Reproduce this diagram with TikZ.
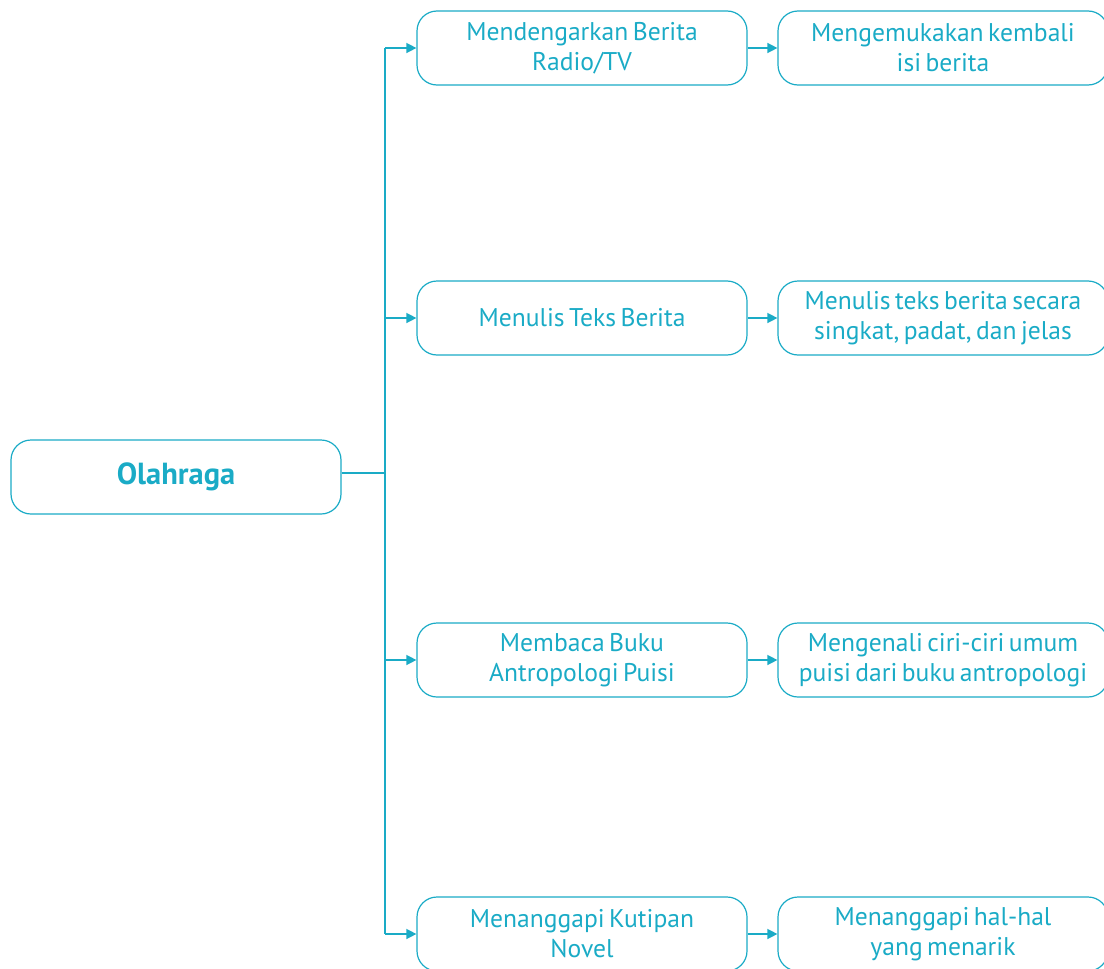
\documentclass[tikz,border=0pt]{standalone}
\usepackage{fontspec}
\setmainfont{PT Sans}[WordSpace=0.65]
\usetikzlibrary{arrows.meta}
\definecolor{teal1}{HTML}{1AABC6}
\tikzset{
  box/.style={draw=teal1, line width=1.2pt, rounded corners=20pt,
    minimum width=330pt, minimum height=74pt, align=center,
    text=teal1, font=\fontsize{25.6}{30}\selectfont, inner sep=0pt},
  link/.style={draw=teal1, line width=1.4pt},
  arr/.style={link, -{Triangle[length=10pt,width=10pt]}}
}
\begin{document}
\begin{tikzpicture}[x=1pt,y=-1pt]
\useasboundingbox (0,0) rectangle (1104,969);
% root
\node[box, font=\fontsize{30.5}{30}\selectfont\bfseries] (root) at (176,477) {Olahraga};
% activities
\node[box] (m1) at (582,48) {Mendengarkan Berita\\Radio/TV};
\node[box] (m2) at (582,318) {Menulis Teks Berita};
\node[box] (m3) at (582,660) {Membaca Buku\\Antropologi Puisi};
\node[box] (m4) at (582,934) {Menanggapi Kutipan\\Novel};
% outcomes
\node[box] (r1) at (943,48) {Mengemukakan kembali\\isi berita};
\node[box] (r2) at (943,318) {Menulis teks berita secara\\singkat, padat, dan jelas};
\node[box] (r3) at (943,660) {Mengenali ciri-ciri umum\\puisi dari buku antropologi};
\node[box] (r4) at (943,934) {Menanggapi hal-hal\\yang menarik};
% trunk
\coordinate (j) at (385,473);
\coordinate (t1) at (385,48);
\coordinate (t2) at (385,318);
\coordinate (t3) at (385,660);
\coordinate (t4) at (385,934);
\draw[link] (root.east |- j) -- (j);
\draw[link] (t1) -- (t4);
\foreach \i in {1,2,3,4}{
  \draw[arr] (t\i) -- (m\i.west);
  \draw[arr] (m\i.east) -- (r\i.west);
}
\end{tikzpicture}
\end{document}
